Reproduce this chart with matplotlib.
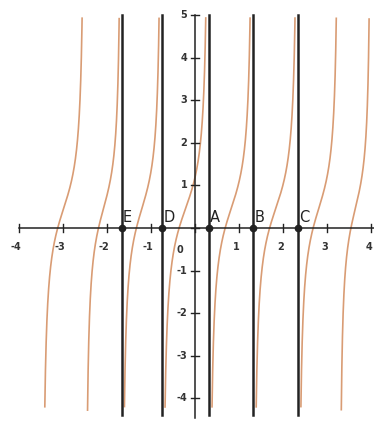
import matplotlib
matplotlib.use('Agg')
import matplotlib.pyplot as plt
import numpy as np

# asymptote positions of the tangent-like branches
asymptotes = [-3.47, -2.49, -1.66, -0.75, 0.32, 1.32, 2.34, 3.27, 4.0]
shift = 0.45         # vertical offset of each branch's inflection
ytop, ybot = 5.0, -4.3

# marked vertical lines and their point names
marks = [-1.66, -0.75, 0.32, 1.32, 2.34]
mark_names = ['E', 'D', 'A', 'B', 'C']

xticks = [-4, -3, -2, -1, 1, 2, 3, 4]
yticks = [-4, -3, -2, -1, 1, 2, 3, 4, 5]

orange = '#d99c74'
ink = '#222222'

fig = plt.figure(figsize=(3.74, 4.24), dpi=100)
ax = fig.add_axes([0, 0, 1, 1])
ax.set_xlim(-4.42, 4.06)
ax.set_ylim(-4.6, 5.35)
ax.axis('off')

# curve branches between consecutive asymptotes
for a0, a1 in zip(asymptotes[:-1], asymptotes[1:]):
    w = a1 - a0
    m = 0.5 * (a0 + a1)
    x = np.linspace(a0 + 1e-3, a1 - 1e-3, 800)
    y = shift + np.tan(np.pi * (x - m) / w)
    keep = (y >= ybot) & (y <= ytop)
    ax.plot(x[keep], y[keep], color=orange, lw=1.2, solid_capstyle='butt', zorder=2)

# vertical lines
for xm in marks:
    ax.plot([xm, xm], [ybot - 0.1, ytop], color=ink, lw=1.8, zorder=3)

# axes
ax.plot([-4.0, 4.06], [0, 0], color=ink, lw=1.1, zorder=4)
ax.plot([0, 0], [-4.45, 5.0], color=ink, lw=1.1, zorder=4)
for t in xticks + [0]:
    ax.plot([t, t], [-0.09, 0.09], color=ink, lw=1.0, zorder=4)
for t in [0] + yticks:
    ax.plot([-0.1, 0.1], [t, t], color=ink, lw=1.0, zorder=4)

for t in xticks:
    ax.text(t - 0.06, -0.45, str(t), fontsize=7, fontweight='bold',
            color='#333333', ha='center', va='center', zorder=5)
ax.text(-0.35, -0.52, '0', fontsize=7, fontweight='bold', color='#333333',
        ha='center', va='center', zorder=5)
for t in yticks:
    ax.text(-0.17, t, str(t), fontsize=7, fontweight='bold', color='#333333',
            ha='right', va='center', zorder=5)

# named points on the x axis
for xm, name in zip(marks, mark_names):
    ax.plot(xm, 0, 'o', color=ink, ms=4.5, zorder=6)
    ax.text(xm + 0.03, 0.07, name, fontsize=10.5, color=ink,
            ha='left', va='bottom', zorder=6)

fig.savefig('out.png', dpi=100)
